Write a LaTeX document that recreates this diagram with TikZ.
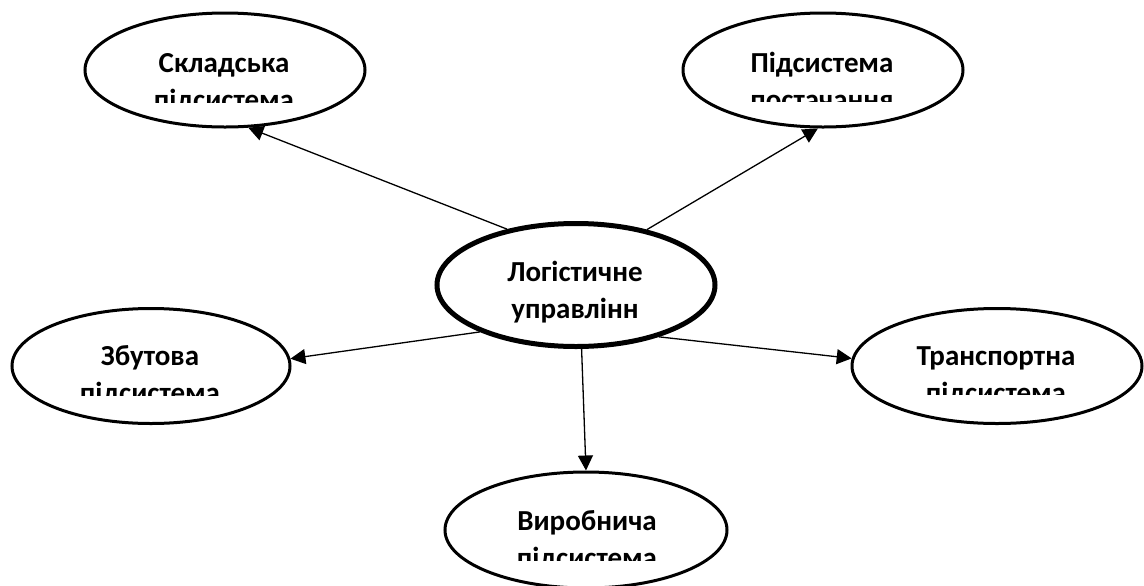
\documentclass[tikz,border=0pt]{standalone}
\usepackage{fontspec}
\setmainfont{Carlito}
\usetikzlibrary{shapes.geometric,arrows.meta}
\tikzset{
  oval/.style={ellipse, draw, line width=0.6mm, inner sep=0pt, fill=white},
  hub/.style={oval, line width=1mm},
  lbl/.style={align=center, inner sep=0pt,
              font=\fontsize{16.5pt}{21pt}\selectfont\bfseries},
  ar/.style={-{Triangle[length=3mm, width=3mm]}, line width=0.26mm},
}
% name, x, last baseline, cut line, text
\newcommand{\ovaltext}[5]{%
  \begin{scope}
    \clip (#2-160,#3-90) rectangle (#2+160,#4);
    \node[lbl, anchor=base] (#1) at (#2,#3) {#5};
  \end{scope}}
\begin{document}
\begin{tikzpicture}[x=0.2mm, y=-0.2mm]
  \useasboundingbox (0,0) rectangle (1144,585);
  \node[oval, minimum width=56mm, minimum height=22.8mm] (skl) at (225,70) {};
  \node[oval, minimum width=56mm, minimum height=22.8mm] (post) at (823,70) {};
  \node[hub, minimum width=55.6mm, minimum height=24.6mm] (log) at (576,285) {};
  \node[oval, minimum width=55.6mm, minimum height=23mm] (zbut) at (151,366) {};
  \node[oval, minimum width=58mm, minimum height=23mm] (tran) at (997,366) {};
  \node[oval, minimum width=56.4mm, minimum height=23.2mm] (vyr) at (586,530) {};
  \ovaltext{sklt}{224}{109}{102}{Складська\\підсистема}
  \ovaltext{postt}{822}{109}{101}{Підсистема\\постачання}
  \ovaltext{logt}{575}{318}{323}{Логістичне\\управлінн}
  \ovaltext{zbutt}{150}{402}{395}{Збутова\\підсистема}
  \ovaltext{trant}{996}{402}{394}{Транспортна\\підсистема}
  \ovaltext{vyrt}{587}{567}{560}{Виробнича\\підсистема}
  \draw[ar] (log.141) -- (skl.292);
  \draw[ar] (log.38) -- (post.265);
  \draw[ar] (log.206) -- (zbut.3);
  \draw[ar] (log.328) -- (tran.177);
  \draw[ar] (log.275) -- (vyr.north);
\end{tikzpicture}
\end{document}
